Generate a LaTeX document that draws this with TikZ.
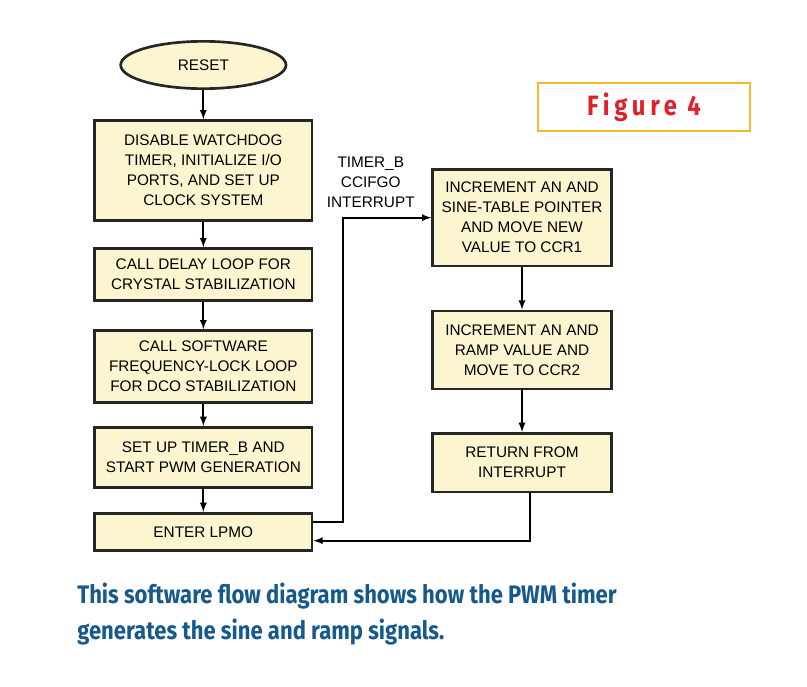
\documentclass[tikz,border=0pt]{standalone}
\usepackage{fontspec}
\setmainfont{Liberation Sans}
\newfontfamily\capfont[FakeStretch=0.87]{Fira Sans}
\newfontfamily\figfont[FakeStretch=0.85,LetterSpace=17]{Fira Sans}
\usepackage{xcolor}
\usetikzlibrary{positioning,shapes.geometric,arrows}

\definecolor{boxfill}{HTML}{FCF5CF}
\definecolor{figorange}{HTML}{F5B82E}
\definecolor{figred}{HTML}{E0202A}
\definecolor{capblue}{HTML}{16598C}

\begin{document}
\begin{tikzpicture}[>=latex,
    every node/.style={font=\fontsize{11.5}{15}\selectfont},
    flowbox/.style={draw=black!85, line width=2pt, fill=boxfill, align=center, inner sep=2pt},
    lbox/.style={flowbox, minimum width=163pt},
    rbox/.style={flowbox, minimum width=134pt},
    flow/.style={->, line width=1.4pt}]
    \useasboundingbox (0,0) rectangle (605.25pt,-514.5pt);
    % main loop
    \node[ellipse, flowbox, minimum width=124pt, minimum height=35.5pt] (reset) at (152.5pt,-48.75pt) {RESET};
    \node[lbox, minimum height=75pt, below=22pt of reset] (init) {DISABLE WATCHDOG\\TIMER, INITIALIZE I/O\\PORTS, AND SET UP\\CLOCK SYSTEM};
    \node[lbox, minimum height=39pt, below=19pt of init] (delay) {CALL DELAY LOOP FOR\\CRYSTAL STABILIZATION};
    \node[lbox, minimum height=54pt, below=20.5pt of delay] (fll) {CALL SOFTWARE\\FREQUENCY-LOCK LOOP\\FOR DCO STABILIZATION};
    \node[lbox, minimum height=45pt, below=16.5pt of fll] (setup) {SET UP TIMER\_B AND\\START PWM GENERATION};
    \node[lbox, minimum height=28pt, below=17.5pt of setup] (lpm) {ENTER LPMO};
    % interrupt routine
    \node[rbox, minimum height=72.5pt, anchor=north] (sine) at (391.5pt,-126pt) {INCREMENT AN AND\\SINE-TABLE POINTER\\AND MOVE NEW\\VALUE TO CCR1};
    \node[rbox, minimum height=58.5pt, below=31.75pt of sine] (ramp) {INCREMENT AN AND\\RAMP VALUE AND\\MOVE TO CCR2};
    \node[rbox, minimum height=44pt, below=31.25pt of ramp] (reti) {RETURN FROM\\INTERRUPT};
    \node[align=center, anchor=south east] (irq) at ([xshift=-9pt,yshift=4pt]sine.west) {TIMER\_B\\CCIFGO\\INTERRUPT};
    \node[draw=figorange, line width=1.5pt, minimum width=159pt, minimum height=36pt, text=figred,
      font=\figfont\bfseries\fontsize{21}{24}\selectfont] (fig) at (483pt,-80.25pt) {Figure 4};
    \node[anchor=west, align=left, text=capblue, font=\capfont\bfseries\fontsize{19}{27}\selectfont]
      (caption) at (54.5pt,-460.5pt) {This software flow diagram shows how the PWM timer\\generates the sine and ramp signals.};
    \draw[flow] (reset) -- (init);
    \draw[flow] (init) -- (delay);
    \draw[flow] (delay) -- (fll);
    \draw[flow] (fll) -- (setup);
    \draw[flow] (setup) -- (lpm);
    \draw[flow] (sine) -- (ramp);
    \draw[flow] (ramp) -- (reti);
    \draw[flow] ([yshift=7.5pt]lpm.east) -- ++(22.5pt,0) |- (sine.west);
    \draw[flow] ([xshift=6pt]reti.south) |- ([yshift=-6.5pt]lpm.east);
\end{tikzpicture}
\end{document}
